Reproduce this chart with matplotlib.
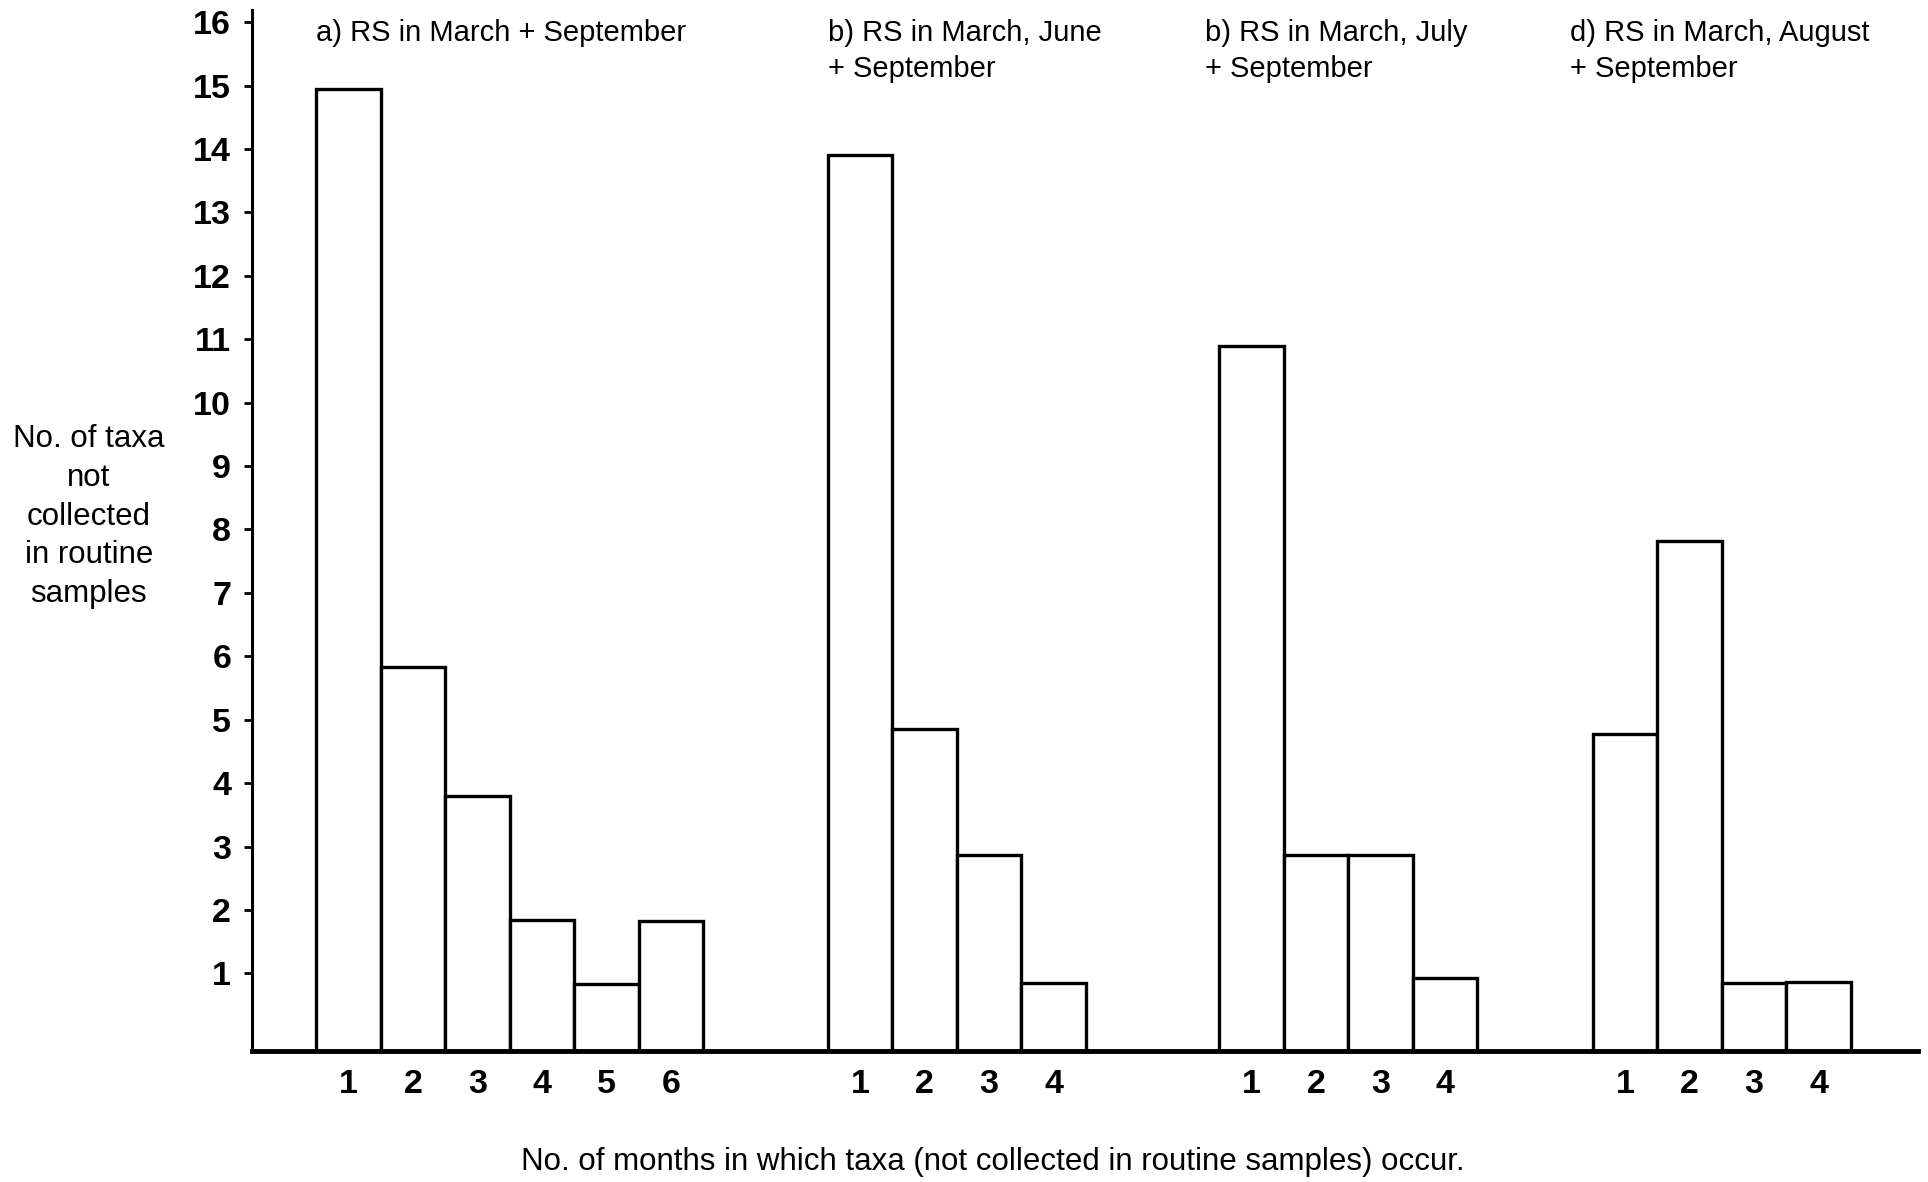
import matplotlib
matplotlib.use("Agg")
import matplotlib.pyplot as plt

plt.rcParams['font.family'] = ['Liberation Sans', 'DejaVu Sans']

# ---- data ----
panel_titles = [
    "a) RS in March + September",
    "b) RS in March, June\n+ September",
    "b) RS in March, July\n+ September",
    "d) RS in March, August\n+ September",
]
months_a = [1, 2, 3, 4, 5, 6]
values_a = [14.95, 5.83, 3.8, 1.85, 0.84, 1.82]
months_b = [1, 2, 3, 4]
values_b = [13.9, 4.85, 2.86, 0.85]
months_c = [1, 2, 3, 4]
values_c = [10.9, 2.86, 2.86, 0.93]
months_d = [1, 2, 3, 4]
values_d = [4.78, 7.82, 0.85, 0.86]
y_ticks = list(range(1, 17))
x_label = "No. of months in which taxa (not collected in routine samples) occur."
y_label = "No. of taxa\nnot\ncollected\nin routine\nsamples"

groups = [(months_a, values_a), (months_b, values_b),
          (months_c, values_c), (months_d, values_d)]
# layout: left edge of each panel's first bar, and title offsets
group_start = [1.0, 8.93, 15.0, 20.79]
title_shift = [0.0, 0.0, -0.23, -0.36]

Y0 = -0.22
fig = plt.figure(figsize=(19.28, 11.82), dpi=100)
ax = fig.add_axes([0.1307, 0.111, 0.9948 - 0.1307, 0.9915 - 0.111])

tick_pos, tick_lab = [], []
for (months, vals), start in zip(groups, group_start):
    xs = [start + i + 0.5 for i in range(len(months))]
    ax.bar(xs, [v - Y0 for v in vals], bottom=Y0, width=1.0,
           facecolor='white', edgecolor='black', linewidth=2.4, zorder=2)
    tick_pos += xs
    tick_lab += [str(m) for m in months]

ax.set_xlim(0, 25.83)
ax.set_ylim(Y0, 16.19)

for s in ['top', 'right']:
    ax.spines[s].set_visible(False)
ax.spines['left'].set_linewidth(2.2)
ax.spines['bottom'].set_linewidth(3.5)
ax.spines['bottom'].set_zorder(3)

ax.set_yticks(y_ticks)
ax.set_yticklabels([str(t) for t in y_ticks], fontsize=24.5, fontweight='bold')
ax.tick_params(axis='y', direction='out', length=6, width=2, pad=9)
ax.set_xticks(tick_pos)
ax.set_xticklabels(tick_lab, fontsize=24.5, fontweight='bold')
ax.tick_params(axis='x', length=0, pad=13)

for title, start, sh in zip(panel_titles, group_start, title_shift):
    ax.text(start + sh, 16.05, title,
            fontsize=21, ha='left', va='top', linespacing=1.38)

fig.text(0.515, 0.017, x_label, fontsize=22.5, ha='center', va='center')
fig.text(0.046, 0.563, y_label, fontsize=22.5, ha='center', va='center',
         linespacing=1.38)

fig.savefig("out.png", dpi=100)
